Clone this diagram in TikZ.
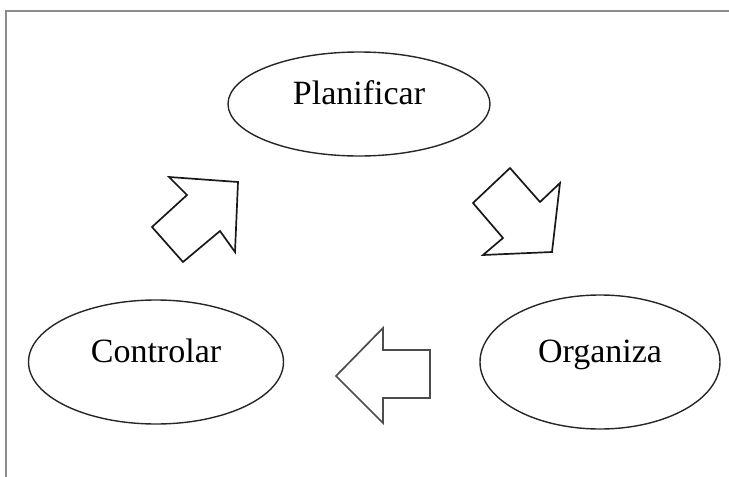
\documentclass[tikz,border=0pt]{standalone}
\usepackage{fontspec}
\setmainfont{Liberation Serif}
\usepackage{tikz}
\usetikzlibrary{shapes.geometric}

\begin{document}
\begin{tikzpicture}[x=1pt,y=-1pt,
    etapa/.style={draw=black!85,line width=1.4pt,ellipse,inner sep=0pt,
      text height=22pt,text depth=21pt,font=\fontsize{34}{40}\selectfont},
    flecha/.style={draw=black!90,line width=1.7pt,line join=miter,fill=white}]
    \useasboundingbox (0,0) rectangle (729,477);
    \draw [black!45,line width=1.8pt] (729,11) -- (6,11) -- (6,477);
    \node[etapa,minimum width=262pt,minimum height=104pt] (plan) at (359,104) {Planificar};
    \node[etapa,minimum width=255pt,minimum height=124pt] (ctrl) at (156,362) {Controlar};
    \node[etapa,minimum width=240pt,minimum height=134pt] (org) at (600,362) {Organiza};
    \draw [flecha] (169,177) -- (238,182) -- (235,252) -- (220,231) -- (183,262) -- (152,227) -- (187,195) -- cycle;
    \draw [flecha] (510,168) -- (540,202) -- (560,183) -- (552,252) -- (483,255) -- (503,238) -- (473,203) -- cycle;
    \draw [flecha,draw=black!70] (336,376) -- (383,328) -- (383,350) -- (430,350) -- (430,398) -- (383,398) -- (383,423) -- cycle;
    \end{tikzpicture}
\end{document}
